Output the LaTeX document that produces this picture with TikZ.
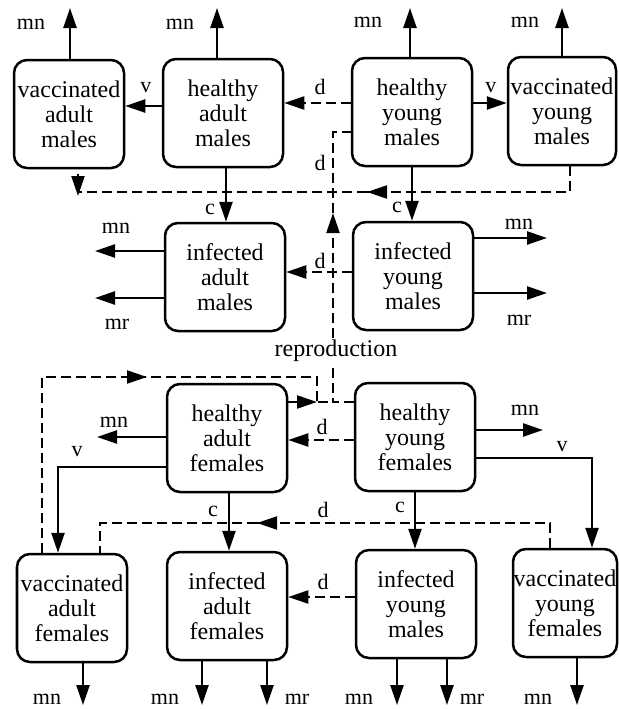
\documentclass[tikz,border=0pt]{standalone}
\usepackage{fontspec}
\setmainfont{Liberation Serif}
\usetikzlibrary{arrows.meta,calc}
\begin{document}
\begin{tikzpicture}[x=0.5pt,y=-0.5pt,
  box/.style={draw,line width=1.25pt,rounded corners=6.5pt,minimum width=60pt,minimum height=54pt,inner sep=0pt,align=center,font=\fontsize{12}{12.5}\selectfont},
  vbox/.style={box,minimum width=55pt},
  lbl/.style={font=\fontsize{11}{12}\selectfont,inner sep=0pt},
  tip/.style={-{Triangle[length=10pt,width=6.5pt]}},
  flow/.style={line width=1.25pt,tip},
  dline/.style={line width=1.1pt,dash pattern=on 5pt off 2.5pt},
  dflow/.style={dline,tip},
]
\useasboundingbox (0,0) rectangle (618,709);
% boxes
\node[vbox] (VAM) at (69,114) {vaccinated\\adult\\males};
\node[box] (HAM) at (223,113) {healthy\\adult\\males};
\node[box] (HYM) at (412,112) {healthy\\young\\males};
\node[vbox,minimum width=54pt] (VYM) at (562,111) {vaccinated\\young\\males};
\node[box] (IAM) at (225,277) {infected\\adult\\males};
\node[box] (IYM) at (413,276) {infected\\young\\males};
\node[box] (HAF) at (227,438) {healthy\\adult\\females};
\node[box] (HYF) at (415,437) {healthy\\young\\females};
\node[vbox] (VAF) at (72,608) {vaccinated\\adult\\females};
\node[box] (IAF) at (227,606) {infected\\adult\\females};
\node[box] (IYB) at (416,604) {infected\\young\\males};
\node[vbox,minimum width=52pt] (VYF) at (565,603) {vaccinated\\young\\females};

% free ends
\coordinate (t1) at (70,8);
\coordinate (t2) at (217,8);
\coordinate (t3) at (410,8);
\coordinate (t4) at (562,8);
\coordinate (e1) at (95,251);
\coordinate (e2) at (95,298);
\coordinate (e3) at (547,238);
\coordinate (e4) at (547,293);
\coordinate (e5) at (97,437);
\coordinate (e6) at (543,430);
\coordinate (b1) at (83,705);
\coordinate (b2) at (202,705);
\coordinate (b3) at (267,705);
\coordinate (b4) at (397,705);
\coordinate (b5) at (447,705);
\coordinate (b6) at (577,705);

% row 1
\draw[flow] (VAM.north -| t1) -- (t1);
\draw[flow] (HAM.north -| t2) -- (t2);
\draw[flow] (HYM.north -| t3) -- (t3);
\draw[flow] (VYM.north -| t4) -- (t4);
\node[lbl] at (31,24) {mn};
\node[lbl] at (180,24) {mn};
\node[lbl] at (368,22) {mn};
\node[lbl] at (525,22) {mn};
\draw[flow] (HAM.west |- 0,106) -- (VAM.east |- 0,106);
\node[lbl] at (146,88) {v};
\draw[dflow] (HYM.west |- 0,103) -- (HAM.east |- 0,103);
\node[lbl] at (320,87) {d};
\draw[flow] (HYM.east |- 0,103) -- (VYM.west |- 0,103);
\node[lbl] at (491,88) {v};

% vaccinated young males -> vaccinated adult males
\coordinate (k1) at (78,192);
\coordinate (k2) at (367,192);
\draw[dline] (VYM.south -| 570,0) |- (k2);
\draw[dline] (k2) -- (k1);
\draw[dflow] ($(k2)+(18,0)$) -- (k2);
\draw[dflow] ($(k1)+(0,-18)$) -- ($(k1)+(0,4)$);
\node[lbl] at (320,163) {d};

% c arrows row 1 -> row 2
\draw[flow] (HAM.south -| 226,0) -- (IAM.north -| 226,0);
\node[lbl] at (210,209) {c};
\draw[flow] (HYM.south -| 412,0) -- (IYM.north -| 412,0);
\node[lbl] at (397,207) {c};

% row 2
\draw[flow] (IAM.west |- e1) -- (e1);
\draw[flow] (IAM.west |- e2) -- (e2);
\node[lbl] at (116,228) {mn};
\node[lbl] at (117,324) {mr};
\draw[flow] (IYM.east |- e3) -- (e3);
\draw[flow] (IYM.east |- e4) -- (e4);
\node[lbl] at (519,224) {mn};
\node[lbl] at (519,320) {mr};
\draw[dflow] (IYM.west |- 0,272) -- (IAM.east |- 0,272);
\node[lbl] at (320,261) {d};

% reproduction
\node[font=\fontsize{12}{12.5}\selectfont,inner sep=1pt] (rep) at (336,351) {reproduction};
\coordinate (j) at (333,402);
\coordinate (u) at (333,213);
\draw[dline] (HYF.west |- j) -- (j) -- (rep.south -| j);
\draw[dline] (rep.north -| j) -- ($(u)+(0,20)$);
\draw[dflow] ($(u)+(0,20)$) -- (u);
\draw[dline] (u) |- (HYM.west |- 0,132);
\draw[dline] (HAF.east |- j) -- (j);
\draw[dflow] (HAF.east |- j) -- (317,402);
\coordinate (q) at (317,377);
\draw[dline] (VAF.north -| 42,0) |- (147,377) -- (q) -- (q |- j);
\draw[dflow] (125,377) -- (147,377);

% row 3
\draw[flow] (HAF.west |- e5) -- (e5);
\node[lbl] at (114,422) {mn};
\draw[flow] (HAF.west |- 0,467) -| (VAF.north -| 58,0);
\node[lbl] at (77,452) {v};
\draw[dflow] (HYF.west |- 0,440) -- (HAF.east |- 0,440);
\node[lbl] at (322,427) {d};
\draw[flow] (HYF.east |- e6) -- (e6);
\node[lbl] at (525,410) {mn};
\draw[flow] (HYF.east |- 0,458) -| (VYF.north -| 592,0);
\node[lbl] at (562,447) {v};

% c arrows row 3 -> row 4
\draw[flow] (HAF.south -| 229,0) -- (IAF.north -| 229,0);
\node[lbl] at (213,511) {c};
\draw[flow] (HYF.south -| 415,0) -- (IYB.north -| 415,0);
\node[lbl] at (400,507) {c};

% vaccinated young females -> vaccinated adult females
\coordinate (k3) at (257,523);
\draw[dline] (VYF.north -| 550,0) |- (k3);
\draw[dline] (k3) -| (VAF.north -| 100,0);
\draw[dflow] ($(k3)+(20,0)$) -- (k3);
\node[lbl] at (323,510) {d};

% row 4
\draw[flow] (VAF.south -| b1) -- (b1);
\node[lbl] at (47,699) {mn};
\draw[flow] (IAF.south -| b2) -- (b2);
\node[lbl] at (165,699) {mn};
\draw[flow] (IAF.south -| b3) -- (b3);
\node[lbl] at (297,699) {mr};
\draw[flow] (IYB.south -| b4) -- (b4);
\node[lbl] at (359,699) {mn};
\draw[flow] (IYB.south -| b5) -- (b5);
\node[lbl] at (472,699) {mr};
\draw[flow] (VYF.south -| b6) -- (b6);
\node[lbl] at (538,699) {mn};
\draw[dflow] (IYB.west |- 0,597) -- (IAF.east |- 0,597);
\node[lbl] at (323,582) {d};
\end{tikzpicture}
\end{document}
